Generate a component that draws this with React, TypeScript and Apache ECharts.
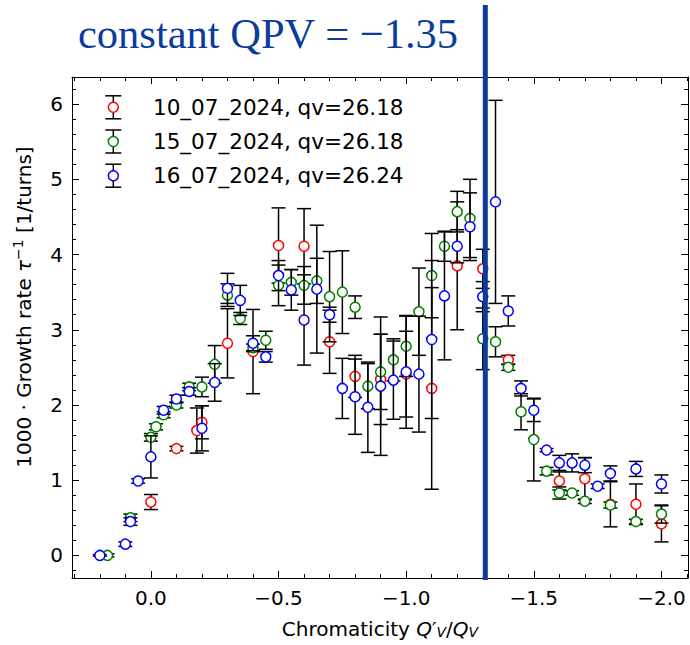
import React, { useEffect, useRef } from "react";
import * as echarts from "echarts";

// ---- axis ranges ----
const X_MIN = -2.104;
const X_MAX = 0.309;
const Y_MIN = -0.3;
const Y_MAX = 6.36;
const QPV_LINE_X = -1.31;

const TITLE = "constant QPV = \u22121.35";
const legendLabels = ["10_07_2024, qv=26.18", "15_07_2024, qv=26.18", "16_07_2024, qv=26.24"];
const seriesColors = ["#ff0000", "#008000", "#0000ff"];

// ---- 10_07_2024 (red) ----
const xRed = [0, -0.1, -0.18, -0.2, -0.3, -0.4, -0.5, -0.6, -0.7, -0.8, -0.9, -1.0, -1.1, -1.2, -1.3, -1.4, -1.6, -1.7, -1.8, -1.9, -2.0];
const yRed = [0.71, 1.42, 1.66, 1.77, 2.82, 2.71, 4.12, 4.11, 2.84, 2.38, 2.34, 2.41, 2.22, 3.85, 3.81, 2.6, 0.99, 1.02, 0.68, 0.68, 0.42];
const eRed = [0.1, 0.03, 0.3, 0.22, 0.46, 0.56, 0.5, 0.5, 0.42, 0.28, 0.6, 0.57, 1.34, 0.85, 0.26, 0.06, 0.12, 0.28, 0.3, 0.27, 0.24];

// ---- 15_07_2024 (green) ----
const xGreen = [0.17, 0.08, 0, -0.02, -0.05, -0.1, -0.15, -0.2, -0.25, -0.3, -0.35, -0.4, -0.45, -0.5, -0.55, -0.6, -0.65, -0.7, -0.75, -0.8, -0.85, -0.9, -0.95, -1.0, -1.05, -1.1, -1.15, -1.2, -1.25, -1.3, -1.35, -1.4, -1.45, -1.5, -1.55, -1.6, -1.65, -1.7, -1.8, -1.9, -2.0];
const yGreen = [0, 0.5, 1.57, 1.71, 1.87, 2.0, 2.24, 2.24, 2.54, 3.46, 3.15, 2.76, 2.86, 3.59, 3.63, 3.59, 3.65, 3.44, 3.5, 3.3, 2.25, 2.44, 2.6, 2.78, 3.24, 3.72, 4.11, 4.57, 4.48, 2.88, 2.84, 2.5, 1.91, 1.54, 1.12, 0.83, 0.83, 0.72, 0.67, 0.45, 0.55];
const eGreen = [0.02, 0.05, 0.05, 0.04, 0.04, 0.04, 0.05, 0.13, 0.25, 0.15, 0.08, 0.05, 0.12, 0.27, 0.17, 0.25, 0.3, 0.6, 0.55, 0.15, 0.3, 0.5, 0.28, 0.4, 0.58, 0.56, 0.2, 0.27, 0.52, 0.41, 0.2, 0.04, 0.24, 0.55, 0.05, 0.08, 0.03, 0.03, 0.04, 0.03, 0.12];

// ---- 16_07_2024 (blue) ----
const xBlue = [0.2, 0.1, 0.08, 0.05, 0, -0.05, -0.1, -0.15, -0.2, -0.25, -0.3, -0.35, -0.4, -0.45, -0.5, -0.55, -0.6, -0.65, -0.7, -0.75, -0.8, -0.85, -0.9, -0.95, -1.0, -1.05, -1.1, -1.15, -1.2, -1.25, -1.3, -1.35, -1.4, -1.45, -1.5, -1.55, -1.6, -1.65, -1.7, -1.75, -1.8, -1.9, -2.0];
const yBlue = [0, 0.15, 0.45, 0.99, 1.31, 1.93, 2.08, 2.18, 1.69, 2.3, 3.55, 3.39, 2.82, 2.64, 3.72, 3.53, 3.13, 3.54, 3.2, 2.22, 2.11, 1.97, 2.25, 2.33, 2.44, 2.41, 2.87, 3.45, 4.11, 4.37, 3.44, 4.7, 3.25, 2.22, 1.93, 1.4, 1.23, 1.23, 1.2, 0.92, 1.09, 1.15, 0.95];
const eBlue = [0.01, 0.03, 0.05, 0.03, 0.28, 0.05, 0.05, 0.05, 0.3, 0.25, 0.2, 0.2, 0.1, 0.07, 0.2, 0.27, 0.6, 0.85, 0.1, 0.4, 0.5, 0.6, 0.92, 0.52, 0.75, 0.77, 1.05, 0.85, 0.22, 0.45, 0.2, 1.35, 0.2, 0.1, 0.15, 0.02, 0.1, 0.12, 0.1, 0.03, 0.1, 0.1, 0.12];

const datasets = [
  { x: xRed, y: yRed, e: eRed },
  { x: xGreen, y: yGreen, e: eGreen },
  { x: xBlue, y: yBlue, e: eBlue },
];

const FONT = "DejaVu Sans";
const CAP = 7;

function errorBarSeries(xs: number[], ys: number[], es: number[], z: number) {
  return {
    type: "custom",
    z,
    silent: true,
    clip: true,
    encode: { x: 0, y: [1, 2] },
    data: xs.map((x, i) => [x, ys[i] - es[i], ys[i] + es[i]]),
    renderItem: (_params: any, api: any) => {
      const lo = api.coord([api.value(0), api.value(1)]);
      const hi = api.coord([api.value(0), api.value(2)]);
      const st = { stroke: "#000", lineWidth: 1.5 };
      return {
        type: "group",
        children: [
          { type: "line", shape: { x1: lo[0], y1: lo[1], x2: hi[0], y2: hi[1] }, style: st },
          { type: "line", shape: { x1: lo[0] - CAP, y1: lo[1], x2: lo[0] + CAP, y2: lo[1] }, style: st },
          { type: "line", shape: { x1: hi[0] - CAP, y1: hi[1], x2: hi[0] + CAP, y2: hi[1] }, style: st },
        ],
      };
    },
  };
}

function markerSeries(xs: number[], ys: number[], color: string, name: string, z: number) {
  return {
    type: "scatter",
    name,
    z,
    silent: true,
    symbol: "circle",
    symbolSize: 10,
    itemStyle: { color: "#ffffff", borderColor: color, borderWidth: 1.5, opacity: 1 },
    data: xs.map((x, i) => [x, ys[i]]),
  };
}

const fmtX = (v: number) => {
  const r = Math.round(v * 10) / 10;
  return (r < 0 ? "\u2212" : "") + Math.abs(r).toFixed(1);
};
const fmtY = (v: number) => String(Math.round(v));

const lineStyle = { color: "#000", width: 1 };

function makeXAxis(position: "bottom" | "top", labels: boolean) {
  return {
    type: "value",
    position,
    min: X_MIN,
    max: X_MAX,
    inverse: true,
    splitNumber: 5,
    axisLine: { show: true, onZero: false, lineStyle },
    axisTick: { show: true, inside: true, length: 7, lineStyle },
    minorTick: { show: true, splitNumber: 5, length: 4, lineStyle },
    splitLine: { show: false },
    axisLabel: {
      show: labels,
      showMinLabel: false,
      showMaxLabel: false,
      fontSize: 20,
      fontFamily: FONT,
      color: "#000",
      margin: 10,
      formatter: fmtX,
    },
  };
}

function makeYAxis(position: "left" | "right", labels: boolean) {
  return {
    type: "value",
    position,
    min: Y_MIN,
    max: Y_MAX,
    splitNumber: 6,
    axisLine: { show: true, onZero: false, lineStyle },
    axisTick: { show: true, inside: true, length: 7, lineStyle },
    minorTick: { show: true, splitNumber: 5, length: 4, lineStyle },
    splitLine: { show: false },
    axisLabel: {
      show: labels,
      showMinLabel: false,
      showMaxLabel: false,
      fontSize: 20,
      fontFamily: FONT,
      color: "#000",
      margin: 9,
      formatter: fmtY,
    },
  };
}

export default function App() {
  const ref = useRef<HTMLDivElement>(null);

  useEffect(() => {
    document.body.style.margin = "0";
    if (!ref.current) return;
    const chart = echarts.init(ref.current, undefined, { renderer: "svg" });

    const series: any[] = [];
    datasets.forEach((d, i) => {
      series.push(errorBarSeries(d.x, d.y, d.e, 2 + i * 2));
      series.push(markerSeries(d.x, d.y, seriesColors[i], legendLabels[i], 3 + i * 2));
    });

    chart.setOption({
      animation: false,
      backgroundColor: "#ffffff",
      grid: { left: 72, right: 2, top: 77, bottom: 67, containLabel: false },
      xAxis: [makeXAxis("bottom", true), makeXAxis("top", false)],
      yAxis: [makeYAxis("left", true), makeYAxis("right", false)],
      series,
    });

    const lineX = chart.convertToPixel({ xAxisIndex: 0 }, QPV_LINE_X) as number;

    const legendGraphic = legendLabels.map((label, i) => {
      const cy = 107.3 + i * 34.2;
      const cx = 113.3;
      const st = { stroke: "#000", lineWidth: 1.5 };
      return {
        type: "group",
        children: [
          { type: "line", shape: { x1: cx, y1: cy - 11.5, x2: cx, y2: cy + 11.5 }, style: st },
          { type: "line", shape: { x1: cx - 8, y1: cy - 11.5, x2: cx + 8, y2: cy - 11.5 }, style: st },
          { type: "line", shape: { x1: cx - 8, y1: cy + 11.5, x2: cx + 8, y2: cy + 11.5 }, style: st },
          { type: "circle", shape: { cx, cy, r: 5 }, style: { fill: "#fff", stroke: seriesColors[i], lineWidth: 1.5 } },
          {
            type: "text",
            x: 153,
            y: cy,
            style: { text: label, fontSize: 21.5, fontFamily: FONT, fill: "#000", verticalAlign: "middle", align: "left" },
          },
        ],
      };
    });

    chart.setOption({
      graphic: [
        {
          type: "text",
          x: 78,
          y: 33,
          z: 50,
          style: {
            text: TITLE,
            fontSize: 42.5,
            fontFamily: "Liberation Serif",
            fill: "#0b3b9b",
            verticalAlign: "middle",
            align: "left",
          },
        },
        {
          type: "line",
          z: 100,
          shape: { x1: lineX, y1: 5, x2: lineX, y2: 580 },
          style: { stroke: "#0b3b9b", lineWidth: 5 },
        },
        ...legendGraphic,
        {
          type: "text",
          x: 380,
          y: 629,
          style: {
            text: "{a|Chromaticity }{q|Q}{a|\u2032}{s|V}{a|/}{q|Q}{s|V}",
            align: "center",
            verticalAlign: "middle",
            rich: {
              a: { fontSize: 20, fontFamily: FONT, fill: "#000", lineHeight: 20, verticalAlign: "middle" },
              q: { fontSize: 20, fontFamily: FONT, fontStyle: "italic", fill: "#000", lineHeight: 20, verticalAlign: "middle" },
              s: { fontSize: 14, fontFamily: FONT, fontStyle: "italic", fill: "#000", lineHeight: 12, verticalAlign: "bottom" },
            },
          },
        },
        {
          type: "text",
          x: 24,
          y: 307,
          rotation: Math.PI / 2,
          style: {
            text: "{a|1000 \u00b7 Growth rate }{t|\u03c4}{s|\u22121}{a| [1/turns]}",
            align: "center",
            verticalAlign: "middle",
            rich: {
              a: { fontSize: 20, fontFamily: FONT, fill: "#000", lineHeight: 26, verticalAlign: "middle" },
              t: { fontSize: 20, fontFamily: FONT, fontStyle: "italic", fill: "#000", lineHeight: 26, verticalAlign: "middle" },
              s: { fontSize: 14, fontFamily: FONT, fill: "#000", lineHeight: 14, verticalAlign: "top" },
            },
          },
        },
      ],
    });

    return () => chart.dispose();
  }, []);

  return <div ref={ref} style={{ position: "absolute", left: 0, top: 0, width: 690, height: 645 }} />;
}
